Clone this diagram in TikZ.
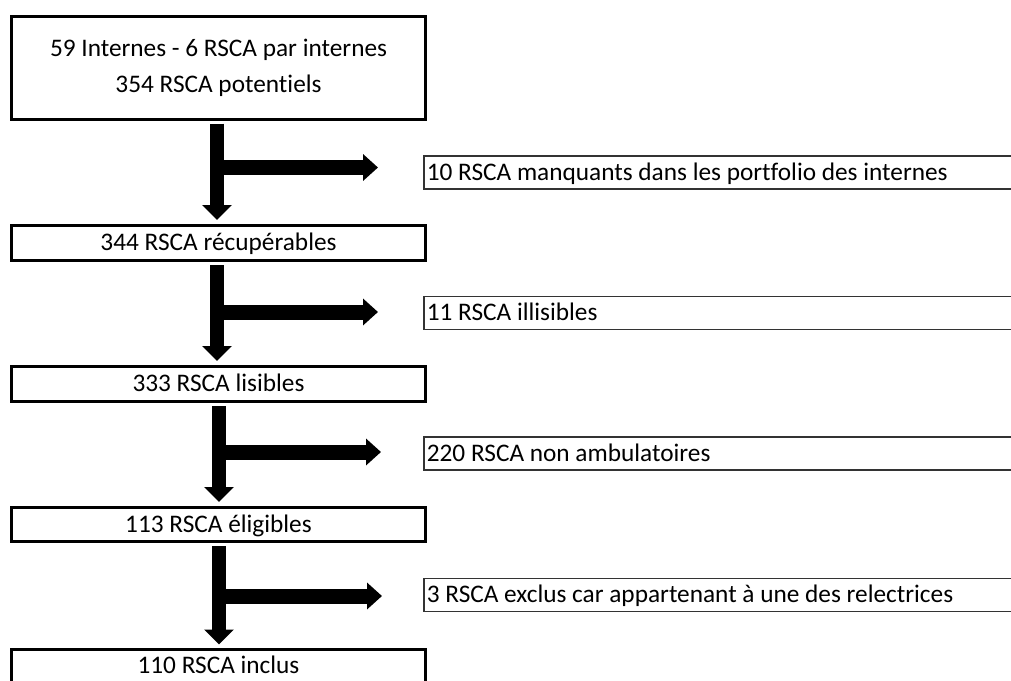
\documentclass[tikz,border=0pt]{standalone}
\usepackage{fontspec}
\setmainfont{Carlito}[Ligatures={NoCommon}]
\usetikzlibrary{arrows.meta}
\begin{document}
\begin{tikzpicture}[x=1pt,y=1pt,
  txt/.style={font=\fontsize{25.3}{36}\selectfont},
  leftbox/.style={txt,draw=black,line width=3pt,minimum width=414pt,inner sep=0pt,
    text height=18.5pt,text depth=3.5pt},
  rightbox/.style={draw=black!80,line width=1.8pt,minimum width=610pt,minimum height=33pt,inner sep=0pt},
  rtext/.style={txt,anchor=west,inner sep=0pt,text height=18.5pt,text depth=3.5pt},
  stem/.style={line width=14pt,-{Triangle[width=29pt,length=15pt]}},
  arm/.style={line width=15pt,-{Triangle[width=26pt,length=15pt]}}
]
\useasboundingbox (0,0) rectangle (1011,-680);
% left boxes
\node[leftbox,minimum height=103pt,align=center,text height=,text depth=] (b1) at (218.5,-67.5)
  {59 Internes - 6 RSCA par internes\\354 RSCA potentiels};
\node[leftbox,minimum height=35pt] (b2) at (218.5,-243) {344 RSCA récupérables};
\node[leftbox,minimum height=35pt] (b3) at (218.5,-384) {333 RSCA lisibles};
\node[leftbox,minimum height=34pt] (b4) at (218.5,-524.5) {113 RSCA éligibles};
\node[leftbox,minimum height=34pt] (b5) at (218.5,-666) {110 RSCA inclus};
% right boxes
\node[rightbox] (r1) at (729,-172.5) {};
\node[rightbox] (r2) at (729,-313) {};
\node[rightbox] (r3) at (729,-453.5) {};
\node[rightbox] (r4) at (729,-595) {};
\node[rtext] (t1) at ([xshift=3.5pt]r1.west) {10 RSCA manquants dans les portfolio des internes};
\node[rtext] (t2) at ([xshift=3.5pt]r2.west) {11 RSCA illisibles};
\node[rtext] (t3) at ([xshift=3.5pt]r3.west) {220 RSCA non ambulatoires};
\node[rtext] (t4) at ([xshift=3.5pt]r4.west) {3 RSCA exclus car appartenant à une des relectrices};
% junction coordinates
\coordinate (j1) at (217,-167.5);
\coordinate (j2) at (217,-312);
\coordinate (j3) at (219,-452);
\coordinate (j4) at (219,-596);
\coordinate (e1) at (378,-167.5);
\coordinate (e2) at (378,-312);
\coordinate (e3) at (381,-452);
\coordinate (e4) at (382,-596);
% arrows
\draw[stem] (b1.south -| j1) ++(0,-3) -- ([yshift=4pt]b2.north -| j1);
\draw[arm] (j1) -- (e1);
\draw[stem] (b2.south -| j2) ++(0,-3) -- ([yshift=4pt]b3.north -| j2);
\draw[arm] (j2) -- (e2);
\draw[stem] (b3.south -| j3) ++(0,-3) -- ([yshift=4pt]b4.north -| j3);
\draw[arm] (j3) -- (e3);
\draw[stem] (b4.south -| j4) ++(0,-3) -- ([yshift=3pt]b5.north -| j4);
\draw[arm] (j4) -- (e4);
\end{tikzpicture}
\end{document}
